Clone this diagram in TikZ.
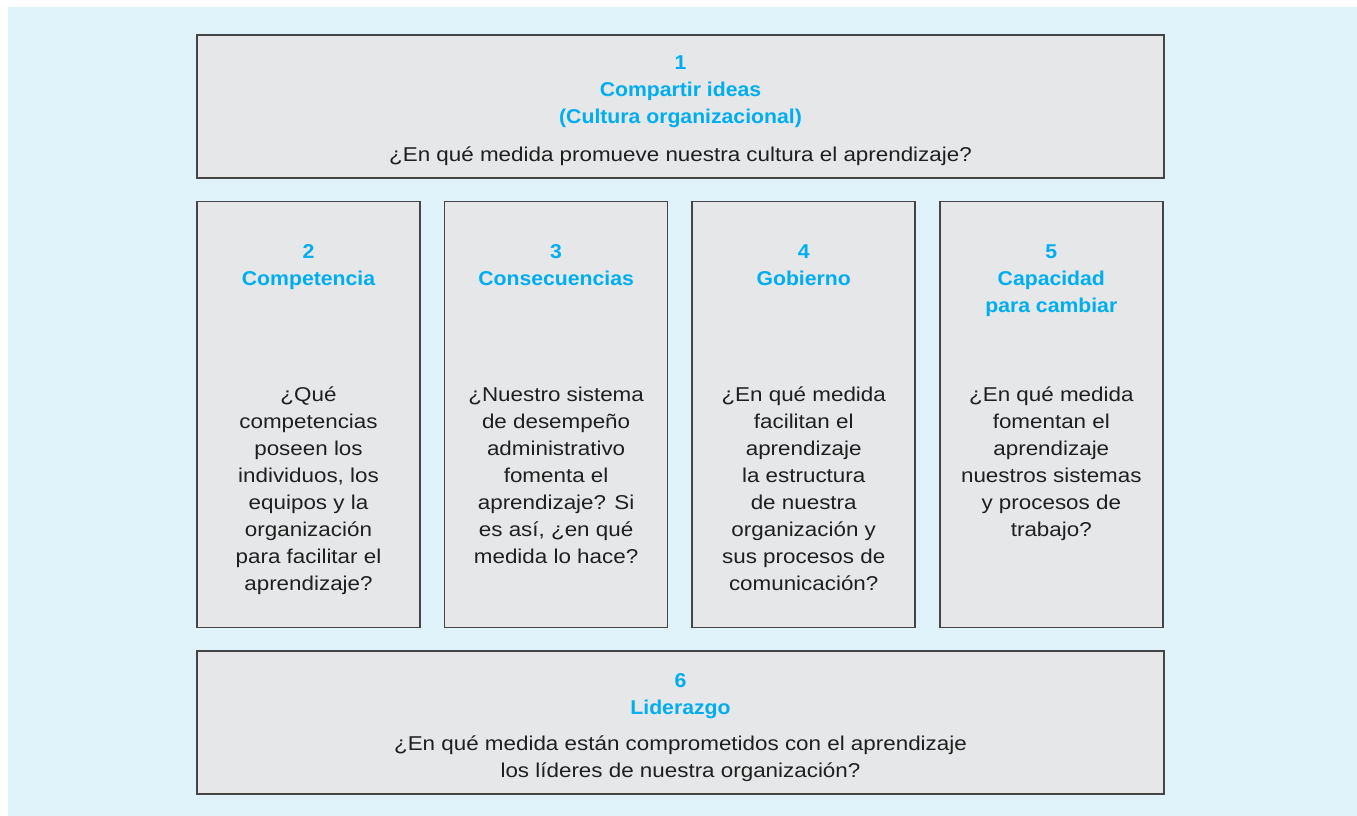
\documentclass[tikz,border=0pt]{standalone}
\usepackage{fontspec}
\setmainfont[FakeStretch=1.12]{Liberation Sans}
\newfontfamily\headfont[FakeStretch=1.06]{Liberation Sans}
\usetikzlibrary{positioning}
\definecolor{bgblue}{HTML}{E0F3FA}
\definecolor{boxgray}{HTML}{E6E7E8}
\definecolor{headcyan}{HTML}{00AEEF}
\definecolor{edgegray}{HTML}{454545}

\begin{document}
\begin{tikzpicture}[
  x=1pt, y=-1pt,
  font=\fontsize{20}{27}\selectfont,
  panel/.style={draw=edgegray, line width=1.6pt, fill=boxgray, inner sep=0pt},
  wide/.style={minimum width=967pt, minimum height=143pt},
  tall/.style={minimum width=223pt, minimum height=426pt},
  ttl/.style={font=\fontsize{20}{27}\selectfont\headfont\bfseries, text=headcyan,
              align=center, inner sep=0pt},
  qst/.style={align=center, inner sep=0pt, text=black!88}
]
\useasboundingbox (0,0) rectangle (1357,816);
\fill[bgblue] (8,7) rectangle (1357,816);

% top row
\node[panel, wide] (p1) at (680.5,106.5) {};
\node[ttl, below=21pt of p1.north] (t1) {1\\Compartir ideas\\(Cultura organizacional)};
\node[qst, below=112pt of p1.north] (q1) {¿En qué medida promueve nuestra cultura el aprendizaje?};

% middle row
\node[panel, tall, below=22pt of p1.south west, anchor=north west] (p2) {};
\node[panel, tall, right=23pt of p2] (p3) {};
\node[panel, tall, right=23pt of p3] (p4) {};
\node[panel, tall, right=23pt of p4] (p5) {};
\node[ttl, below=44pt of p2.north] (t2) {2\\Competencia};
\node[ttl, below=44pt of p3.north] (t3) {3\\Consecuencias};
\node[ttl, below=44pt of p4.north] (t4) {4\\Gobierno};
\node[ttl, below=44pt of p5.north] (t5) {5\\Capacidad\\para cambiar};
\node[qst, below=186pt of p2.north] (q2) {¿Qué\\competencias\\poseen los\\individuos, los\\equipos y la\\organización\\para facilitar el\\aprendizaje?};
\node[qst, below=186pt of p3.north] (q3) {¿Nuestro sistema\\de desempeño\\administrativo\\fomenta el\\aprendizaje? Si\\es así, ¿en qué\\medida lo hace?};
\node[qst, below=186pt of p4.north] (q4) {¿En qué medida\\facilitan el\\aprendizaje\\la estructura\\de nuestra\\organización y\\sus procesos de\\comunicación?};
\node[qst, below=186pt of p5.north] (q5) {¿En qué medida\\fomentan el\\aprendizaje\\nuestros sistemas\\y procesos de\\trabajo?};

% bottom row
\node[panel, wide, below=22pt of p2.south west, anchor=north west] (p6) {};
\node[ttl, below=23pt of p6.north] (t6) {6\\Liderazgo};
\node[qst, below=85pt of p6.north] (q6) {¿En qué medida están comprometidos con el aprendizaje\\los líderes de nuestra organización?};
\end{tikzpicture}
\end{document}
